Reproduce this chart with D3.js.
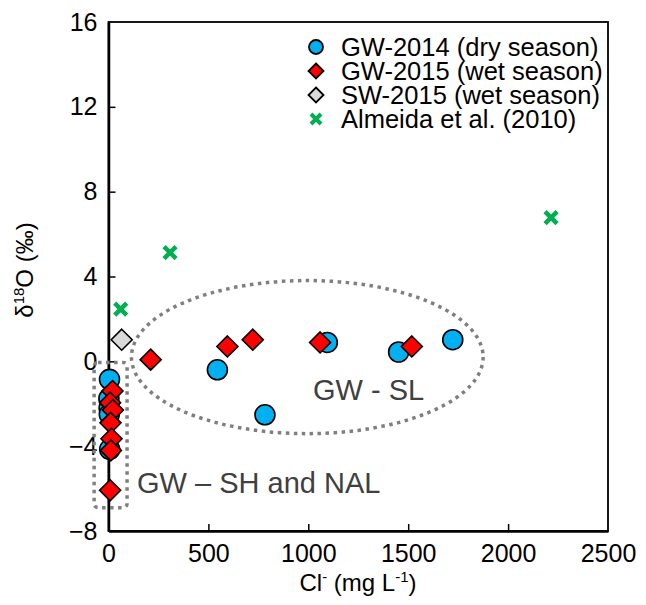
<!DOCTYPE html>
<html>
<head>
<meta charset="utf-8">
<script src="https://cdn.jsdelivr.net/npm/d3@7"></script>
<style>
  body { margin: 0; background: #fff; }
  svg { display: block; font-family: "Liberation Sans", Arial, sans-serif; }
</style>
</head>
<body>
<svg id="chart" width="646" height="605"></svg>
<script>
// ---- data ----
const seriesNames = ["GW-2014 (dry season)", "GW-2015 (wet season)", "SW-2015 (wet season)", "Almeida et al. (2010)"];
const gw2014 = [[5, -0.85], [2, -1.75], [3, -2.2], [4, -2.5], [6, -4.15],
                [545, -0.40], [783, -2.52], [1095, 0.89], [1452, 0.44], [1723, 1.02]];
const gw2015 = [[20, -1.4], [8, -1.95], [22, -2.3], [10, -2.9], [15, -3.65], [12, -4.2], [8, -6.08],
                [211, 0.08], [595, 0.70], [722, 1.02], [1059, 0.89], [1518, 0.70]];
const sw2015 = [[66, 1.02]];
const almeida = [[61, 2.46], [308, 5.13], [2215, 6.78]];
const xTicks = [0, 500, 1000, 1500, 2000, 2500];
const yTicks = [-8, -4, 0, 4, 8, 12, 16];
// annotation regions in data units
const slEllipse = {cx: 995, cy: 0.2, rx: 880, ry: 3.61, label: "GW - SL"};
const shRect = {x0: -72, x1: 93, y0: -0.05, y1: -6.9, label: "GW \u2013 SH and NAL"};

// ---- layout ----
const svg = d3.select("#chart");
const L = 108.5, R = 608, T = 22, B = 531;
const x = d3.scaleLinear().domain([0, 2500]).range([L, R]);
const y = d3.scaleLinear().domain([-8, 16]).range([B, T]);

const col = {blue: "#00b0f0", red: "#ff0000", gray: "#d9d9d9", green: "#00b050", dot: "#7f7f7f", ann: "#404040"};

// frame (top/right)
svg.append("rect").attr("x", L).attr("y", T).attr("width", R - L).attr("height", B - T)
  .attr("fill", "none").attr("stroke", "#000").attr("stroke-width", 1.8);

// axes with inward ticks
const xAxis = d3.axisBottom(x).tickValues(xTicks).tickSizeInner(-7).tickSizeOuter(0).tickFormat(d3.format("d"));
const gx = svg.append("g").attr("transform", `translate(0,${B})`).call(xAxis);
gx.select(".domain").attr("stroke-width", 2.5);
gx.selectAll(".tick line").attr("stroke-width", 1.5);
gx.selectAll(".tick text").attr("font-size", 25).attr("fill", "#000").attr("dy", 0).attr("y", 31)
  .attr("font-family", "Liberation Sans, Arial, sans-serif");

const yAxis = d3.axisLeft(y).tickValues(yTicks).tickSizeInner(-7).tickSizeOuter(0).tickFormat(d3.format("d"));
const gy = svg.append("g").attr("transform", `translate(${L},0)`).call(yAxis);
gy.select(".domain").attr("stroke-width", 2.5);
gy.selectAll(".tick line").attr("stroke-width", 1.5);
gy.selectAll(".tick text").attr("font-size", 25).attr("fill", "#000").attr("x", -11)
  .attr("font-family", "Liberation Sans, Arial, sans-serif");
gx.selectAll(".tick").filter(d => d === 0 || d === 2500).select("line").remove();
gy.selectAll(".tick").filter(d => d === -8 || d === 16).select("line").remove();

// annotation shapes
svg.append("ellipse")
  .attr("cx", x(slEllipse.cx)).attr("cy", y(slEllipse.cy))
  .attr("rx", x(slEllipse.rx) - x(0)).attr("ry", y(0) - y(slEllipse.ry))
  .attr("fill", "none").attr("stroke", col.dot).attr("stroke-width", 3.5).attr("stroke-dasharray", "3.5 4.5");
svg.append("rect")
  .attr("x", x(shRect.x0)).attr("y", y(shRect.y0))
  .attr("width", x(shRect.x1) - x(shRect.x0)).attr("height", y(shRect.y1) - y(shRect.y0))
  .attr("rx", 4)
  .attr("fill", "none").attr("stroke", col.dot).attr("stroke-width", 3.5).attr("stroke-dasharray", "3.5 4.5");

svg.append("text").attr("x", 313).attr("y", 400).attr("font-size", 29).attr("fill", col.ann).text(slEllipse.label);
svg.append("text").attr("x", 137).attr("y", 493).attr("font-size", 29).attr("fill", col.ann).text(shRect.label);

// markers
const diamond = s => `M0,${-s}L${s},0L0,${s}L${-s},0Z`;
const cross = s => `M${-s},${-s}L${s},${s}M${-s},${s}L${s},${-s}`;

svg.append("g").selectAll("circle").data(gw2014).join("circle")
  .attr("cx", d => x(d[0])).attr("cy", d => y(d[1])).attr("r", 10)
  .attr("fill", col.blue).attr("stroke", "#000").attr("stroke-width", 1.6);

svg.append("g").selectAll("path").data(sw2015).join("path")
  .attr("transform", d => `translate(${x(d[0])},${y(d[1])})`).attr("d", diamond(10.5))
  .attr("fill", col.gray).attr("stroke", "#000").attr("stroke-width", 1.6);

svg.append("g").selectAll("path").data(gw2015).join("path")
  .attr("transform", d => `translate(${x(d[0])},${y(d[1])})`).attr("d", diamond(10.5))
  .attr("fill", col.red).attr("stroke", "#000").attr("stroke-width", 1.6);

svg.append("g").selectAll("path").data(almeida).join("path")
  .attr("transform", d => `translate(${x(d[0])},${y(d[1])})`).attr("d", cross(6))
  .attr("fill", "none").attr("stroke", col.green).attr("stroke-width", 4.5);

// legend
const lg = svg.append("g");
const rowsY = [47, 71, 95, 119];
const mx = 316, tx = 341;
lg.append("circle").attr("cx", mx).attr("cy", rowsY[0]).attr("r", 7)
  .attr("fill", col.blue).attr("stroke", "#000").attr("stroke-width", 1.8);
lg.append("path").attr("transform", `translate(${mx},${rowsY[1]})`).attr("d", diamond(7.5))
  .attr("fill", col.red).attr("stroke", "#000").attr("stroke-width", 1.8);
lg.append("path").attr("transform", `translate(${mx},${rowsY[2]})`).attr("d", diamond(7.5))
  .attr("fill", col.gray).attr("stroke", "#000").attr("stroke-width", 1.8);
lg.append("path").attr("transform", `translate(${mx},${rowsY[3]})`).attr("d", cross(5))
  .attr("fill", "none").attr("stroke", col.green).attr("stroke-width", 4);
seriesNames.forEach((n, i) => {
  lg.append("text").attr("x", tx).attr("y", rowsY[i]).attr("dy", "0.35em")
    .attr("font-size", 25.5).attr("fill", "#000").text(n);
});

// axis titles
const yl = svg.append("text").attr("transform", "translate(33,270) rotate(-90)")
  .attr("text-anchor", "middle").attr("font-size", 24).attr("fill", "#000");
yl.append("tspan").text("\u03b4");
yl.append("tspan").attr("font-size", 15).attr("dy", -9).text("18");
yl.append("tspan").attr("dy", 9).text("O (\u2030)");

const xl = svg.append("text").attr("x", 358).attr("y", 591)
  .attr("text-anchor", "middle").attr("font-size", 24).attr("fill", "#000");
xl.append("tspan").text("Cl");
xl.append("tspan").attr("font-size", 15).attr("dy", -9).text("-");
xl.append("tspan").attr("dy", 9).text(" (mg L");
xl.append("tspan").attr("font-size", 15).attr("dy", -9).text("-1");
xl.append("tspan").attr("dy", 9).text(")");
</script>
</body>
</html>
